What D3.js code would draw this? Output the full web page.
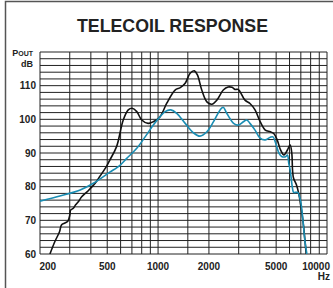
<!DOCTYPE html>
<html><head><meta charset="utf-8">
<script src="https://cdn.jsdelivr.net/npm/d3@7"></script>
<style>html,body{margin:0;padding:0;background:#fff;}svg{display:block;}</style>
</head><body>
<script>
const title = "TELECOIL RESPONSE";
const xTickValues = [200, 500, 1000, 2000, 5000, 10000];
const yTickValues = [60, 70, 80, 90, 100, 110];
const xGridValues = [200,300,400,500,600,700,800,900,1000,1500,2000,3000,4000,5000,6000,7000,8000,9000,10000];
const yGridValues = d3.range(60, 121, 2);
const blackFreq = [229,245,261,268,281,292,301,303,315,325,338,353,386,424,454,496,518,568,622,666,702,748,800,873,937,1028,1126,1261,1353,1447,1548,1641,1710,1814,1945,2082,2227,2432,2600,2740,2850,2960,3050,3270,3500,3750,4020,4310,4620,4840,5070,5310,5560,5830,6050,6190,6250,6340,6600,6800,6960,7200,7530];
const blackDb   = [60,63.7,66.6,68.6,69.2,69.7,71.8,73,73.6,74.6,75.6,77,78.8,81,83.2,86.1,87.9,91.9,99.8,102.8,103.3,102.3,99.8,98.8,99.3,100.8,104.8,108.7,109.4,110.7,113.7,114.4,113.2,108.7,105.2,104.5,105.7,108.7,109.6,109.5,108.9,108.9,108.3,105.7,104.7,102.8,99.3,96.8,96.3,95.8,93.9,90.9,89.4,90.9,92.4,89.9,85,82.5,80.5,78,75,70,60];
const tealFreq = [200,262,346,414,518,568,597,652,748,838,937,1028,1100,1190,1290,1447,1620,1770,1945,2130,2330,2430,2550,2800,2990,3200,3350,3500,3750,4020,4310,4620,4790,4970,5200,5420,5680,5830,5940,6050,6250,6350,6700,6960,7200,7390,7600];
const tealDb   = [75.7,77.2,79.0,81.0,84.3,85.6,86.4,88.4,91.4,94.8,98.3,100.8,102.3,102.8,101.8,98.8,96,95,96.3,99.3,102.8,103.6,101.8,98.8,98.3,99.3,99.8,98.8,96.8,94.4,93.9,94.7,94.8,92.9,89.9,88.9,88.9,89.4,86.9,85,79.5,78.3,78.3,76,70.1,64.2,60];

const W = 333, H = 288;
const svg = d3.select("body").append("svg").attr("width", W).attr("height", H);
const x = d3.scaleLog().domain([200, 10000]).range([40, 327]);
const y = d3.scaleLinear().domain([60, 120]).range([254, 52]);
const ink = "#222";

// outer frame
svg.append("path").attr("d", "M5.5,288V1.5H333").attr("fill", "none").attr("stroke", "#555").attr("stroke-width", 1.5);

// title
svg.append("text").attr("x", 172.5).attr("y", 31.7).attr("text-anchor", "middle")
  .attr("font-family", "Liberation Sans, Arial, sans-serif").attr("font-weight", "bold")
  .attr("font-size", 18).attr("fill", ink).attr("textLength", 191).attr("lengthAdjust", "spacingAndGlyphs")
  .text(title);

// grid
const g = svg.append("g");
g.selectAll("line.h").data(yGridValues).enter().append("line")
  .attr("x1", x(200)).attr("x2", x(10000)).attr("y1", d => y(d)).attr("y2", d => y(d))
  .attr("stroke", ink).attr("stroke-width", 1);
g.selectAll("line.v").data(xGridValues).enter().append("line")
  .attr("y1", y(60)).attr("y2", y(120)).attr("x1", d => x(d)).attr("x2", d => x(d))
  .attr("stroke", ink).attr("stroke-width", 1);

// clip
svg.append("clipPath").attr("id", "clip").append("rect")
  .attr("x", x(200)).attr("y", y(120)).attr("width", x(10000) - x(200)).attr("height", y(60) - y(120));

const line = d3.line().x(d => x(d[0])).y(d => y(d[1])).curve(d3.curveCatmullRom.alpha(0.5));
const blackData = blackFreq.map((f, i) => [f, blackDb[i]]);
const tealData = tealFreq.map((f, i) => [f, tealDb[i]]);
const curves = svg.append("g").attr("clip-path", "url(#clip)");
curves.append("path").attr("d", line(blackData)).attr("fill", "none").attr("stroke", "#111").attr("stroke-width", 1.6);
curves.append("path").attr("d", line(tealData)).attr("fill", "none").attr("stroke", "#1a8db3").attr("stroke-width", 1.6);

// axes labels
const font = "Liberation Sans, Arial, sans-serif";
svg.append("g").selectAll("text").data(yTickValues).enter().append("text")
  .attr("x", 36).attr("y", d => y(d)).attr("dy", "0.36em").attr("text-anchor", "end")
  .attr("font-family", font).attr("font-weight", "bold").attr("font-size", 10).attr("fill", ink)
  .text(d => d);
svg.append("g").selectAll("text").data(xTickValues).enter().append("text")
  .attr("x", d => d === 200 ? x(d) - 0.5 : d === 10000 ? 330 : x(d))
  .attr("y", 269.5)
  .attr("text-anchor", d => d === 200 ? "start" : d === 10000 ? "end" : "middle")
  .attr("font-family", font).attr("font-weight", "bold").attr("font-size", 10).attr("fill", ink)
  .text(d => d);
svg.append("text").attr("x", 330).attr("y", 279.5).attr("text-anchor", "end")
  .attr("font-family", font).attr("font-weight", "bold").attr("font-size", 10).attr("fill", ink).text("Hz");

const pout = svg.append("text").attr("x", 33).attr("y", 56).attr("text-anchor", "end")
  .attr("font-family", font).attr("font-weight", "bold").attr("fill", ink);
pout.append("tspan").attr("font-size", 9).text("P");
pout.append("tspan").attr("font-size", 7).text("OUT");
svg.append("text").attr("x", 33).attr("y", 66.5).attr("text-anchor", "end")
  .attr("font-family", font).attr("font-weight", "bold").attr("font-size", 9).attr("fill", ink).text("dB");
</script>
</body></html>
